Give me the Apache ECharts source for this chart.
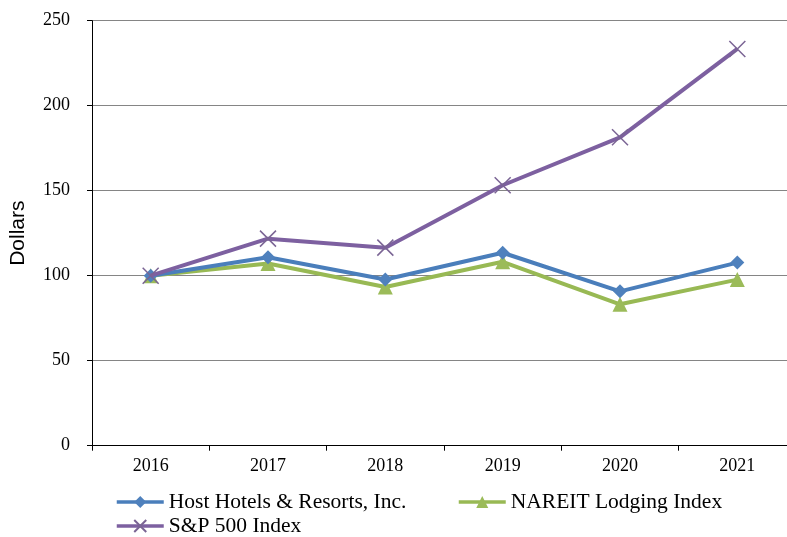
<!DOCTYPE html>
<html>
<head>
<meta charset="utf-8">
<script src="https://cdn.jsdelivr.net/npm/echarts@6/dist/echarts.min.js"></script>
<style>
html,body{margin:0;padding:0;background:#fff;overflow:hidden;width:787px;height:537px;}
#c{width:800px;height:537px;}
</style>
</head>
<body>
<div id="c"></div>
<script>
var categories = ['2016', '2017', '2018', '2019', '2020', '2021'];
var hostValues = [100, 110.8, 97.8, 113.5, 90.8, 107.7];
var nareitValues = [100, 107.2, 93.4, 108.2, 83.2, 97.7];
var spValues = [100, 121.8, 116.5, 153.2, 181.4, 233.4];
var yTicks = [0, 50, 100, 150, 200, 250];
var seriesNames = ['Host Hotels & Resorts, Inc.', 'NAREIT Lodging Index', 'S&P 500 Index'];

var chart = echarts.init(document.getElementById('c'), null, {renderer: 'canvas'});
var serif = '"Liberation Serif", "Times New Roman", serif';
var legendText = {fontFamily: serif, fontSize: 21.5, color: '#000'};
var crossPath = 'path://M0,0L10,10M10,0L0,10';
var legendCommon = {itemWidth: 47, itemHeight: 15, itemGap: 0, padding: 0, textStyle: legendText, lineStyle: {width: 3.5}};

var option = {
  animation: false,
  backgroundColor: '#fff',
  grid: {left: 92, right: 4, top: 20.7, bottom: 91.3, containLabel: false},
  xAxis: {
    type: 'category',
    data: categories,
    boundaryGap: true,
    axisLine: {show: true, lineStyle: {color: '#000', width: 1}},
    axisTick: {show: true, length: 5, lineStyle: {color: '#000'}},
    axisLabel: {fontFamily: serif, fontSize: 18, color: '#000', margin: 12},
    splitLine: {show: false}
  },
  yAxis: {
    type: 'value',
    min: yTicks[0],
    max: yTicks[yTicks.length - 1],
    interval: 50,
    name: 'Dollars',
    nameLocation: 'middle',
    nameGap: 63,
    nameRotate: 90,
    nameTextStyle: {fontFamily: '"Liberation Sans", Arial, sans-serif', fontSize: 21, color: '#000'},
    axisLine: {show: true, lineStyle: {color: '#000', width: 1}},
    axisTick: {show: true, length: 5, lineStyle: {color: '#000'}},
    axisLabel: {fontFamily: serif, fontSize: 18, color: '#000', margin: 22},
    splitLine: {show: true, lineStyle: {color: '#858585', width: 1}}
  },
  legend: [
    Object.assign({data: [seriesNames[0]], left: 115, top: 491}, legendCommon),
    Object.assign({data: [seriesNames[1]], left: 457, top: 491}, legendCommon),
    Object.assign({data: [seriesNames[2]], left: 115, top: 515}, legendCommon)
  ],
  series: [
    {
      name: seriesNames[0], type: 'line', data: hostValues,
      symbol: 'diamond', symbolSize: 14, z: 3,
      lineStyle: {color: '#4A7EBB', width: 4},
      itemStyle: {color: '#4F81BD', borderColor: '#4F81BD', borderWidth: 0}
    },
    {
      name: seriesNames[1], type: 'line', data: nareitValues,
      symbol: 'triangle', symbolSize: 15, z: 2,
      lineStyle: {color: '#98B954', width: 4},
      itemStyle: {color: '#9BBB59', borderColor: '#9BBB59', borderWidth: 0}
    },
    {
      name: seriesNames[2], type: 'line', data: spValues,
      symbol: crossPath, symbolSize: 16, z: 4,
      lineStyle: {color: '#7D60A0', width: 4},
      itemStyle: {color: 'rgba(0,0,0,0)', borderColor: '#7A6494', borderWidth: 1.5}
    }
  ]
};
chart.setOption(option);
</script>
</body>
</html>
